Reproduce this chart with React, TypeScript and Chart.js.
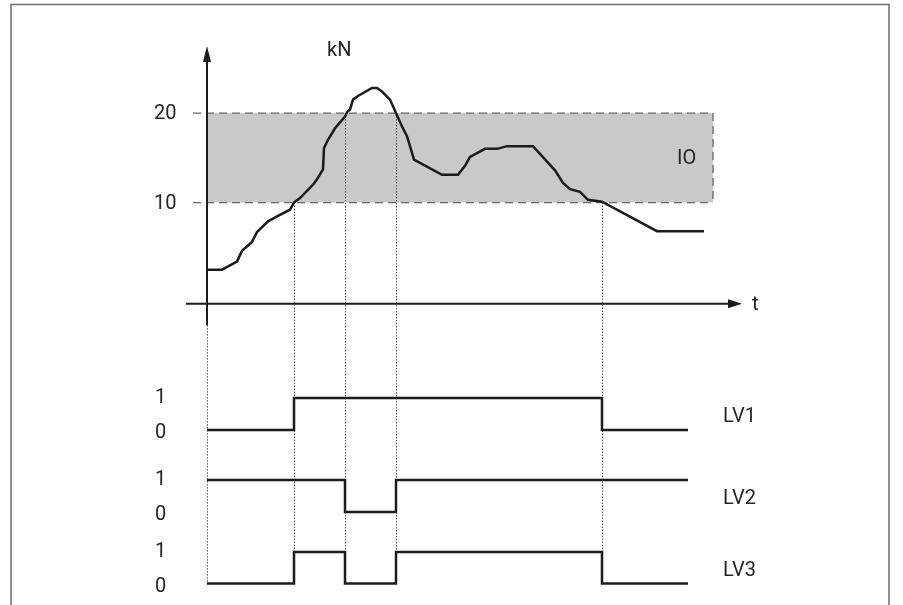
import React, { useEffect, useRef } from "react";
import { Chart, registerables } from "chart.js";

Chart.register(...registerables);

// ---- data ----
const forceT = [0, 1.5, 3.0, 3.5, 4.5, 5.0, 6.1, 7.1, 8.3, 8.7, 9.3, 10.6, 11.0, 11.6, 11.7, 12.1, 12.8, 13.8, 14.0, 14.3, 14.6, 15.1, 16.5, 17.0, 17.5, 18.3, 18.9, 19.5, 20.0, 20.3, 20.7, 23.5, 25.1, 25.8, 26.3, 27.8, 29.0, 30.0, 32.6, 34.8, 35.6, 36.3, 37.3, 38.1, 39.5, 45.0, 49.7];
const forceV = [2.5, 2.5, 3.4, 4.6, 5.6, 6.7, 7.9, 8.5, 9.2, 10.0, 10.5, 12.0, 12.6, 13.7, 16.1, 17.0, 18.3, 19.6, 20.1, 20.4, 21.5, 21.9, 22.8, 22.8, 22.4, 21.5, 20.0, 18.5, 17.4, 16.3, 14.8, 13.1, 13.1, 14.1, 15.1, 16.0, 16.0, 16.3, 16.3, 13.6, 12.2, 11.5, 11.2, 10.3, 10.1, 6.8, 6.8];

const lv1T = [0, 8.7, 39.5, 48.1];
const lv1V = [0, 1, 0, 0];
const lv2T = [0, 13.8, 18.9, 48.1];
const lv2V = [1, 0, 1, 1];
const lv3T = [0, 8.7, 13.8, 18.9, 39.5, 48.1];
const lv3V = [0, 1, 0, 1, 0, 0];

const bandLow = 10;
const bandHigh = 20;
const bandEndT = 50.6;
const crossT = [8.7, 13.8, 18.9, 39.5];
const crossLevel = [10, 20, 20, 10];

const forceTicks = [10, 20];
const levelTicks = [0, 1];
const levelNames = ["LV1", "LV2", "LV3"];
const unitLabel = "kN";
const timeLabel = "t";
const bandLabel = "IO";

const pts = (t: number[], v: number[]) => t.map((x, i) => ({ x, y: v[i] }));

const FONT = "20px Roboto";
const TEXT = "#262626";

const decor = {
  id: "decor",
  beforeDatasetsDraw(chart: any) {
    const ctx = chart.ctx;
    const xs = chart.scales.x;
    const yf = chart.scales.yF;
    const y3 = chart.scales.yL3;
    ctx.save();
    // frame
    ctx.strokeStyle = "#6e6e6e";
    ctx.lineWidth = 1.5;
    ctx.beginPath();
    ctx.moveTo(11, 610);
    ctx.lineTo(11, 4.5);
    ctx.lineTo(889, 4.5);
    ctx.lineTo(889, 610);
    ctx.stroke();

    // band
    const bx0 = xs.getPixelForValue(0);
    const bx1 = xs.getPixelForValue(bandEndT);
    const byT = yf.getPixelForValue(bandHigh);
    const byB = yf.getPixelForValue(bandLow);
    ctx.fillStyle = "#c9c9cb";
    ctx.fillRect(bx0, byT, bx1 - bx0, byB - byT);
    ctx.strokeStyle = "#666666";
    ctx.lineWidth = 1.3;
    ctx.setLineDash([8, 5]);
    const dl = xs.getPixelForValue(-1.4);
    ctx.beginPath();
    ctx.moveTo(dl, byT);
    ctx.lineTo(bx1, byT);
    ctx.lineTo(bx1, byB);
    ctx.moveTo(dl, byB);
    ctx.lineTo(bx1, byB);
    ctx.stroke();

    // dotted verticals
    ctx.setLineDash([1.5, 1.5]);
    ctx.lineWidth = 1;
    ctx.strokeStyle = "#555555";
    const bottom = y3.getPixelForValue(0);
    crossT.forEach((t, i) => {
      const x = Math.round(xs.getPixelForValue(t)) + 0.5;
      ctx.beginPath();
      ctx.moveTo(x, yf.getPixelForValue(crossLevel[i]));
      ctx.lineTo(x, bottom);
      ctx.stroke();
    });
    const x0 = Math.round(xs.getPixelForValue(0)) + 0.5;
    ctx.beginPath();
    ctx.moveTo(x0, yf.getPixelForValue(-3.7));
    ctx.lineTo(x0, bottom);
    ctx.stroke();
    ctx.setLineDash([]);

    // axes
    ctx.strokeStyle = "#1b1b1b";
    ctx.fillStyle = "#1b1b1b";
    ctx.lineWidth = 2;
    const ax = xs.getPixelForValue(0);
    const ayBottom = yf.getPixelForValue(-3.7);
    const ayTip = yf.getPixelForValue(27.5);
    ctx.beginPath();
    ctx.moveTo(ax, ayBottom);
    ctx.lineTo(ax, ayTip + 12);
    ctx.stroke();
    ctx.beginPath();
    ctx.moveTo(ax, ayTip);
    ctx.lineTo(ax - 4, ayTip + 16);
    ctx.lineTo(ax + 4, ayTip + 16);
    ctx.closePath();
    ctx.fill();

    const axY = yf.getPixelForValue(-1.3);
    const axL = xs.getPixelForValue(-2.1);
    const axTip = xs.getPixelForValue(53.5);
    ctx.beginPath();
    ctx.moveTo(axL, axY);
    ctx.lineTo(axTip - 10, axY);
    ctx.stroke();
    ctx.beginPath();
    ctx.moveTo(axTip, axY);
    ctx.lineTo(axTip - 14, axY - 4.5);
    ctx.lineTo(axTip - 14, axY + 4.5);
    ctx.closePath();
    ctx.fill();
    ctx.restore();
  },
  afterDatasetsDraw(chart: any) {
    const ctx = chart.ctx;
    const yf = chart.scales.yF;
    ctx.save();
    ctx.font = FONT;
    ctx.fillStyle = TEXT;
    ctx.textBaseline = "middle";
    ctx.textAlign = "left";
    forceTicks.forEach((v) => ctx.fillText(String(v), 154, yf.getPixelForValue(v) + 1));
    ["yL1", "yL2", "yL3"].forEach((id, i) => {
      const s = chart.scales[id];
      levelTicks.forEach((v) => ctx.fillText(String(v), 155, s.getPixelForValue(v) + (v === 0 ? 3 : 0)));
      ctx.fillText(levelNames[i], 723, (s.getPixelForValue(0) + s.getPixelForValue(1)) / 2 + 3);
    });
    ctx.fillText(unitLabel, 327, 51);
    ctx.fillText(timeLabel, 752, yf.getPixelForValue(-1.3) + 1);
    ctx.fillText(bandLabel, 677, (yf.getPixelForValue(bandLow) + yf.getPixelForValue(bandHigh)) / 2 + 1);
    ctx.restore();
  },
};

export default function App() {
  const ref = useRef<HTMLCanvasElement | null>(null);
  useEffect(() => {
    if (!ref.current) return;
    const line = { borderColor: "#1b1b1b", borderWidth: 2.5, pointRadius: 0, tension: 0, fill: false };
    const chart = new Chart(ref.current, {
      type: "line",
      data: {
        datasets: [
          { ...line, data: pts(forceT, forceV), yAxisID: "yF" },
          { ...line, data: pts(lv1T, lv1V), yAxisID: "yL1", stepped: "before" },
          { ...line, data: pts(lv2T, lv2V), yAxisID: "yL2", stepped: "before" },
          { ...line, data: pts(lv3T, lv3V), yAxisID: "yL3", stepped: "before" },
        ] as any,
      },
      options: {
        animation: false,
        responsive: false,
        devicePixelRatio: 1,
        layout: { padding: 0 },
        plugins: { legend: { display: false }, tooltip: { enabled: false }, title: { display: false } },
        events: [],
        scales: {
          x: { type: "linear", display: false, min: -20.7, max: 69.6 },
          yF: { type: "linear", display: false, min: -34.97, max: 32.63 },
          yL1: { type: "linear", display: false, min: -5.469, max: 13.4375 },
          yL2: { type: "linear", display: false, min: -2.906, max: 16 },
          yL3: { type: "linear", display: false, min: -0.6825, max: 18.524 },
        },
      } as any,
      plugins: [decor],
    });
    return () => chart.destroy();
  }, []);
  return (
    <div style={{ position: "fixed", left: 0, top: 0, width: 903, height: 605, background: "#fff" }}>
      <canvas ref={ref} width={903} height={605} style={{ width: 903, height: 605, display: "block" }} />
    </div>
  );
}
